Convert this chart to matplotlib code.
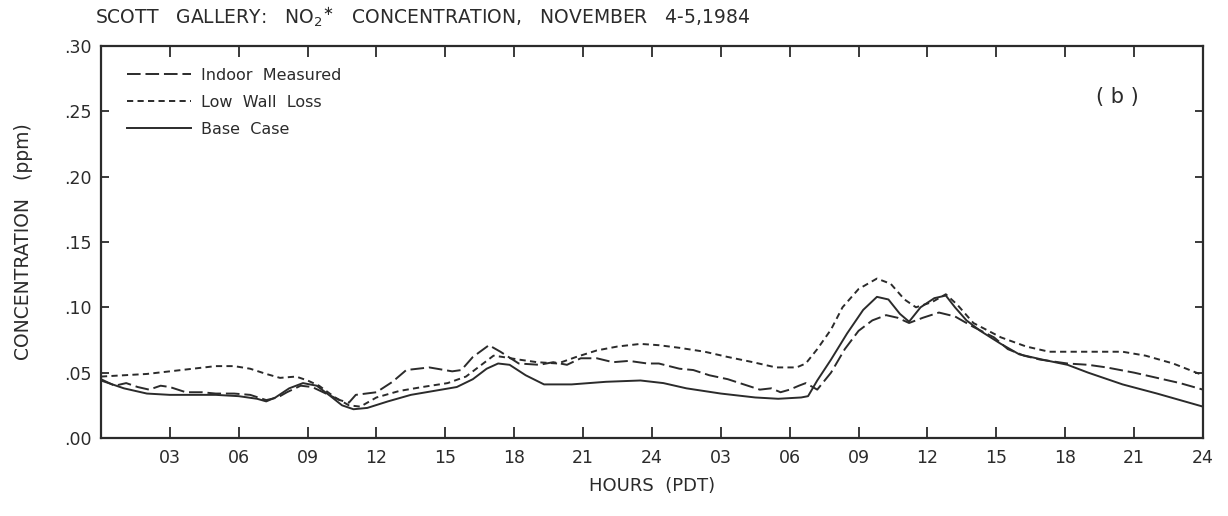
import matplotlib
matplotlib.use("Agg")
import matplotlib.pyplot as plt

# hours from start of Nov 4 (0-48), concentrations in ppm
base_hr = [0, 1, 2, 3, 4, 5, 6, 6.8, 7.2, 7.6, 8.2, 8.8, 9.4, 10.0, 10.5, 11.0,
           11.6, 12.5, 13.5, 14.5, 15.5, 16.2, 16.8, 17.3, 17.8, 18.5, 19.3,
           20.5, 22.0, 23.5, 24.5, 25.5, 27, 28.5, 29.5, 30.5, 30.8, 31.2, 31.8,
           32.5, 33.2, 33.8, 34.3, 34.8, 35.2, 35.7, 36.3, 36.8, 37.2, 37.7,
           38.3, 39.2, 40.0, 41.0, 42.1, 43.0, 44.5, 46, 48]
base_val = [.044, .038, .034, .033, .033, .033, .032, .030, .028, .031, .038,
            .042, .040, .032, .025, .022, .023, .028, .033, .036, .039, .045,
            .053, .057, .056, .048, .041, .041, .043, .044, .042, .038, .034,
            .031, .030, .031, .032, .044, .060, .080, .098, .108, .106, .095,
            .089, .100, .107, .109, .100, .090, .082, .072, .064, .060, .056,
            .050, .041, .034, .024]

meas_hr = [0, 0.6, 1.1, 1.6, 2.1, 2.6, 3.0, 3.7, 4.4, 5.0, 5.8, 6.5, 7.2, 7.7,
           8.1, 8.7, 9.2, 9.8, 10.4, 10.8, 11.1, 12.0, 12.7, 13.3, 14.3, 15.3,
           15.7, 16.2, 16.9, 17.4, 18.2, 19.1, 19.7, 20.3, 20.9, 21.6, 22.3,
           23.0, 23.8, 24.3, 25.2, 25.8, 26.5, 27.3, 28.0, 28.7, 29.2, 29.6,
           30.0, 30.4, 30.7, 31.2, 31.8, 32.4, 33.0, 33.6, 34.2, 34.7, 35.2,
           35.8, 36.5, 37.2, 38.0, 38.9, 39.5, 40.2, 40.9, 42.1, 43.0, 43.8,
           45.0, 46.0, 47.0, 48]
meas_val = [.045, .040, .042, .039, .037, .040, .039, .035, .035, .034, .034,
            .033, .029, .031, .035, .040, .039, .034, .029, .027, .033, .035,
            .043, .052, .054, .051, .052, .062, .071, .066, .057, .056, .058,
            .056, .061, .061, .058, .059, .057, .057, .053, .052, .048, .045,
            .041, .037, .038, .035, .037, .040, .042, .037, .050, .068, .082,
            .090, .094, .092, .088, .092, .096, .093, .085, .077, .068, .063,
            .060, .057, .056, .054, .050, .046, .042, .037]

low_hr = [0, 1, 2, 3, 4, 5, 5.8, 6.5, 7.2, 7.8, 8.5, 9.0, 9.5, 10.2, 10.8, 11.3,
          12, 13, 14, 15.1, 15.9, 16.5, 17.1, 17.5, 18.2, 19.0, 19.9, 20.7,
          21.6, 22.5, 23.5, 24.3, 25.2, 26.3, 27.3, 28.4, 29.4, 30.3, 30.7,
          31.2, 31.8, 32.3, 33.0, 33.8, 34.4, 35.0, 35.5, 36.2, 36.8, 37.3,
          38.0, 39.2, 40.3, 41.3, 43.0, 44.5, 45.5, 46.7, 48]
low_val = [.047, .048, .049, .051, .053, .055, .055, .053, .049, .046, .047,
           .044, .040, .031, .025, .024, .031, .036, .039, .042, .047, .055,
           .063, .062, .060, .058, .057, .062, .067, .070, .072, .071, .069,
           .066, .062, .058, .054, .054, .057, .068, .083, .100, .114, .122,
           .118, .106, .100, .104, .110, .102, .088, .077, .070, .066, .066,
           .066, .063, .057, .048]

xticks = list(range(3, 49, 3))
xlabels = ["03", "06", "09", "12", "15", "18", "21", "24"] * 2
yticks = [0, .05, .10, .15, .20, .25, .30]
ylabels = [".00", ".05", ".10", ".15", ".20", ".25", ".30"]

plt.rcParams["font.family"] = "DejaVu Sans"
ink = "#2b2b2b"

fig = plt.figure(figsize=(12.28, 5.16), dpi=100)
ax = fig.add_axes([0.0822, 0.1512, 0.8974, 0.7597])

lw = 1.4
l1, = ax.plot(meas_hr, meas_val, color=ink, lw=lw, label="Indoor  Measured")
l1.set_dashes((7, 2.5))
l2, = ax.plot(low_hr, low_val, color=ink, lw=lw, label="Low  Wall  Loss")
l2.set_dashes((3.2, 2.2))
ax.plot(base_hr, base_val, color=ink, lw=lw, label="Base  Case")

ax.set_xlim(0, 48)
ax.set_ylim(0, 0.30)
ax.set_xticks(xticks)
ax.set_xticklabels(xlabels)
ax.set_yticks(yticks)
ax.set_yticklabels(ylabels)

ax.tick_params(axis="x", direction="in", length=8, width=1.3, pad=8,
               top=True, labelsize=12.5, colors=ink)
ax.tick_params(axis="y", direction="in", length=6, width=1.3, pad=7,
               right=True, labelsize=12.5, colors=ink)
for s in ax.spines.values():
    s.set_linewidth(1.6)
    s.set_color(ink)

ax.set_xlabel("HOURS  (PDT)", fontsize=13, color=ink, labelpad=7)
ax.set_ylabel("CONCENTRATION   (ppm)", fontsize=13.5, color=ink, labelpad=22)

fig.text(0.077, 0.955,
         r"SCOTT   GALLERY:   NO$_2$$^{\ast}$   CONCENTRATION,   NOVEMBER   4-5,1984",
         fontsize=13.5, color=ink, va="baseline", ha="left")

ax.text(0.922, 0.87, "( b )", transform=ax.transAxes, fontsize=15,
        color=ink, ha="center", va="center")

leg = ax.legend(loc="upper left", bbox_to_anchor=(0.018, 0.96), frameon=False,
                fontsize=11.5, handlelength=4.0, handletextpad=0.6,
                labelspacing=0.75, borderaxespad=0)
for t in leg.get_texts():
    t.set_color(ink)

fig.savefig("out.png", dpi=100)
